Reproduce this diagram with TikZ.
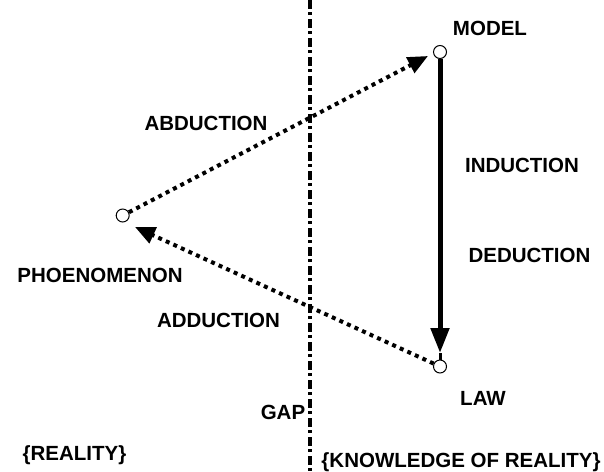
\documentclass[tikz,border=0pt]{standalone}
\usepackage{fontspec}
\setmainfont{Liberation Sans}
\usetikzlibrary{arrows.meta}
\begin{document}
\begin{tikzpicture}[x=1pt,y=-1pt,
  lbl/.style={anchor=base,inner sep=0pt,font=\fontsize{20.5}{24}\selectfont\bfseries},
  dot/.style={circle,draw,fill=white,line width=1pt,inner sep=0pt,minimum size=13pt},
  dotline/.style={line width=4pt,dash pattern=on 4pt off 4.3pt,line cap=butt},
  gapline/.style={line width=4pt,dash pattern=on 8.5pt off 3.5pt on 3pt off 4pt},
  mainline/.style={line width=5pt}
]
\useasboundingbox (0,0) rectangle (604,471);
% gap line
\coordinate (gtop) at (310,0);
\coordinate (gbot) at (310,471);
\draw[gapline] (gtop) -- (gbot);
% points
\node[dot] (model) at (440,52) {};
\node[dot] (phen) at (122.7,215.5) {};
\node[dot] (law) at (440,366.5) {};
\coordinate (abdtip) at (428,56);
\coordinate (addtip) at (135,227);
\coordinate (dedtip) at (440,353);
% connectors
\draw[dotline,-{Triangle[length=20pt,width=17pt]}] (phen) -- (abdtip);
\draw[dotline,-{Triangle[length=20pt,width=17pt]}] (law) -- (addtip);
\draw[mainline,-{Triangle[length=25pt,width=18pt]}] (model) -- (dedtip);
\draw[line width=3pt] (dedtip) -- (law);
% labels
\node[lbl] (tmodel) at (490,35) {MODEL};
\node[lbl] (tabd) at (206,130) {ABDUCTION};
\node[lbl] (tind) at (522,172) {INDUCTION};
\node[lbl] (tded) at (529.5,262) {DEDUCTION};
\node[lbl] (tphen) at (100,282) {PHOENOMENON};
\node[lbl] (tadd) at (218.5,327) {ADDUCTION};
\node[lbl] (tlaw) at (483,405) {LAW};
\node[lbl] (tgap) at (283,419) {GAP};
\node[lbl] (treal) at (74.5,460) {\{REALITY\}};
\node[lbl] (tknow) at (461,467) {\{KNOWLEDGE OF REALITY\}};
\end{tikzpicture}
\end{document}
